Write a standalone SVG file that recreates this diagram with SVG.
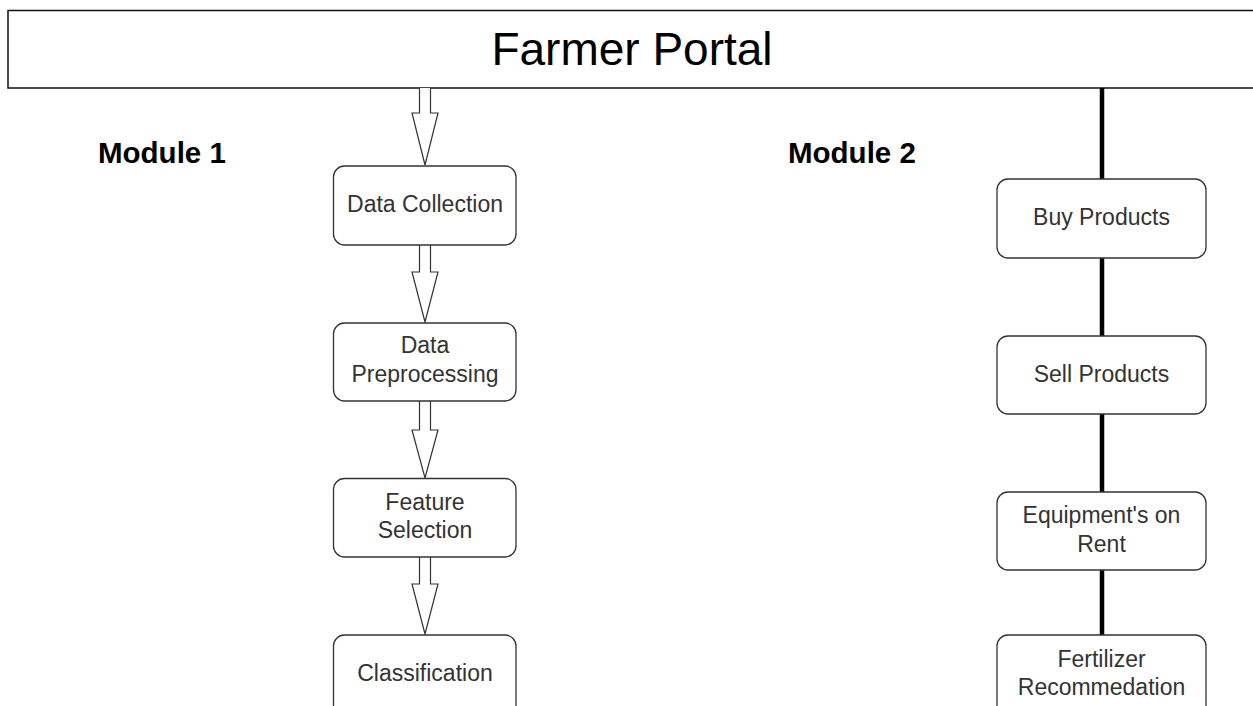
<svg xmlns="http://www.w3.org/2000/svg" width="1253" height="706" viewBox="0 0 1253 706">
<style>
.node rect{fill:#fff;stroke:#333;stroke-width:1.3}
.node text{font-family:"Liberation Sans",Arial,sans-serif;font-size:23px;fill:#333;text-anchor:middle}
.mod{font-family:"Liberation Sans",Arial,sans-serif;font-size:29.5px;font-weight:bold;fill:#000}
.flex{fill:#fff;stroke:#333;stroke-width:1.2;stroke-linejoin:miter}
.link{stroke:#000;stroke-width:4.5;fill:none}
</style>
<rect width="1253" height="706" fill="#fff"/>
<g id="portal">
<rect x="8" y="10.5" width="1260" height="77.5" fill="#fff" stroke="#111" stroke-width="1.5"/>
<text x="632" y="65" font-family="Liberation Sans, Arial, sans-serif" font-size="46" fill="#000" text-anchor="middle">Farmer Portal</text>
</g>
<g id="module1-label"><text class="mod" x="98" y="163">Module 1</text></g>
<g id="module2-label"><text class="mod" x="788" y="163">Module 2</text></g>
<g id="connectors">
<path class="flex" d="M419.5,88 V113 H412 L425,165 L438,113 H430.5 V88"/>
<path class="flex" d="M419.5,245 V272 H412 L425,322 L438,272 H430.5 V245"/>
<path class="flex" d="M419.5,401 V430 H412 L425,478 L438,430 H430.5 V401"/>
<path class="flex" d="M419.5,557 V584 H412 L425,634 L438,584 H430.5 V557"/>
<line class="link" x1="1102" y1="88" x2="1102" y2="179"/>
<line class="link" x1="1102" y1="258" x2="1102" y2="336"/>
<line class="link" x1="1102" y1="414" x2="1102" y2="492"/>
<line class="link" x1="1102" y1="570" x2="1102" y2="635"/>
</g>
<g id="data-collection" class="node"><rect x="333.5" y="166" width="182.5" height="79" rx="11"/><text x="425" y="212">Data Collection</text></g>
<g id="data-preprocessing" class="node"><rect x="333.5" y="323" width="182.5" height="78" rx="11"/><text x="425" y="353">Data</text><text x="425" y="382">Preprocessing</text></g>
<g id="feature-selection" class="node"><rect x="333.5" y="478.5" width="182.5" height="78.5" rx="11"/><text x="425" y="510">Feature</text><text x="425" y="538">Selection</text></g>
<g id="classification" class="node"><rect x="333.5" y="635" width="182.5" height="90" rx="11"/><text x="425" y="681">Classification</text></g>
<g id="buy-products" class="node"><rect x="997" y="179" width="209" height="79" rx="11"/><text x="1101.5" y="225">Buy Products</text></g>
<g id="sell-products" class="node"><rect x="997" y="336" width="209" height="78" rx="11"/><text x="1101.5" y="382">Sell Products</text></g>
<g id="equipment-rent" class="node"><rect x="997" y="492" width="209" height="78" rx="11"/><text x="1101.5" y="523">Equipment's on</text><text x="1101.5" y="552">Rent</text></g>
<g id="fertilizer" class="node"><rect x="997" y="635" width="209" height="90" rx="11"/><text x="1101.5" y="667">Fertilizer</text><text x="1101.5" y="695">Recommedation</text></g>
</svg>
